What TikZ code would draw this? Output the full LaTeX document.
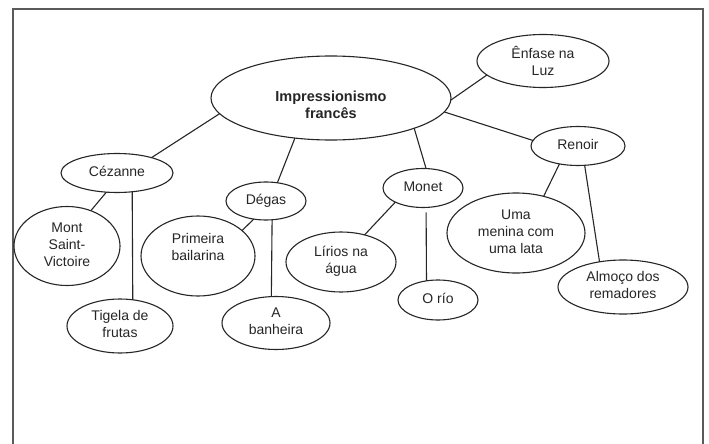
\documentclass[tikz,border=0pt]{standalone}
\usepackage{fontspec}
\setmainfont{Liberation Sans}
\usetikzlibrary{shapes.geometric}

% centred multi-line label that does not resize its ellipse;
% the optional argument moves the text up (+) or down (-)
\newcommand\lbl[2][0pt]{\raisebox{\dimexpr#1-3.5pt\relax}[0pt][0pt]{\makebox[0pt]{\begin{tabular}{@{}c@{}}#2\end{tabular}}}}

\definecolor{inkc}{HTML}{262626}
\definecolor{framec}{HTML}{5A5A5A}

\tikzset{
  bubble/.style={ellipse, draw=inkc, line width=1.1pt, inner sep=0pt, outer sep=0pt,
    text=inkc, font=\fontsize{14}{17}\selectfont},
  link/.style={draw=inkc, line width=1.1pt},
}

\begin{document}
\begin{tikzpicture}[x=1pt,y=-1pt]
  \useasboundingbox (0,0) rectangle (709,444);
  \fill[white] (0,0) rectangle (709,444);
  \clip (0,0) rectangle (709,444);
  \draw[framec, line width=1.3pt] (13,9) rectangle (703,480);

  % central topic
  \node[bubble, minimum width=240, minimum height=84,
        font=\fontsize{14.5}{17.5}\selectfont\bfseries] (big) at (331,98)
        {\lbl[-8.5pt]{Impressionismo\\francês}};
  \node[bubble, minimum width=132, minimum height=53] (enf) at (543,61)
        {\lbl[-2.5pt]{Ênfase na\\Luz}};

  % painters
  \node[bubble, minimum width=112, minimum height=39] (cez) at (117,173) {\lbl{Cézanne}};
  \node[bubble, minimum width=80, minimum height=38] (deg) at (266,201) {\lbl{Dégas}};
  \node[bubble, minimum width=80, minimum height=39] (mon) at (423,188) {\lbl{Monet}};
  \node[bubble, minimum width=94, minimum height=39] (ren) at (578,146) {\lbl{Renoir}};

  % works
  \node[bubble, minimum width=106, minimum height=79] (mont) at (67,246) {\lbl{Mont\\Saint-\\Victoire}};
  \node[bubble, minimum width=106, minimum height=54] (tig) at (120,326) {\lbl{Tigela de\\frutas}};
  \node[bubble, minimum width=114, minimum height=80] (pri) at (198,256)
        {\lbl[7.5pt]{Primeira\\bailarina}};
  \node[bubble, minimum width=108, minimum height=53] (ban) at (276,323) {\lbl{A\\banheira}};
  \node[bubble, minimum width=110, minimum height=60] (lir) at (341,262) {\lbl{Lírios na\\água}};
  \node[bubble, minimum width=80, minimum height=40] (rio) at (438,300) {\lbl{O río}};
  \node[bubble, minimum width=138, minimum height=80] (uma) at (516,233) {\lbl{Uma\\menina com\\uma lata}};
  \node[bubble, minimum width=130, minimum height=54] (alm) at (623,287) {\lbl{Almoço dos\\remadores}};

  % connectors
  \draw[link] (big.188) -- (cez.24);
  \draw[link] (big.228) -- (deg.58);
  \draw[link] (big.-20) -- (mon.81);
  \draw[link] (big.-1) -- (enf.194);
  \draw[link] (big.-7) -- (ren.173);

  \draw[link] (cez.241) -- (mont.56);
  \draw[link] (cez.-51) -- (tig.64);
  \draw[link] (deg.236) -- (pri.30);
  \draw[link] (deg.-72) -- (ban.100);
  \draw[link] (mon.207) -- (lir.49);
  \draw[link, shorten <=5pt] (mon.-81) -- (rio.121);
  \draw[link] (ren.224) -- (uma.53);
  \draw[link] (ren.-71) -- (alm.133);
\end{tikzpicture}
\end{document}
